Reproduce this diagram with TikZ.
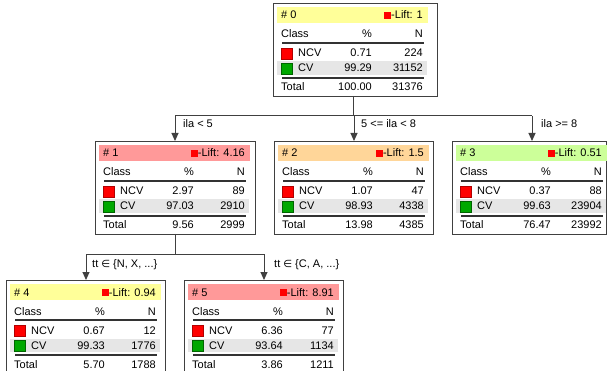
\documentclass[tikz,border=0pt]{standalone}
\usepackage{fontspec}
\setmainfont{Liberation Sans}
\newfontfamily\symfont{DejaVu Sans}[Scale=0.92]
\usetikzlibrary{arrows.meta,calc}

\definecolor{hdyellow}{HTML}{FFFF99}
\definecolor{hdpink}{HTML}{FF9999}
\definecolor{hdpeach}{HTML}{FFD699}
\definecolor{hdgreen}{HTML}{CCFF99}
\definecolor{rowgray}{HTML}{E6E6E6}
\definecolor{ncvred}{HTML}{FF0000}
\definecolor{cvgreen}{HTML}{00A800}

\newcommand\liftmark{{\color{ncvred}\rule{7pt}{7pt}}}

\tikzset{
  nodeframe/.style={draw=black!75, line width=1pt, inner sep=0pt, anchor=north west, minimum height=93pt},
  cell/.style={inner sep=0pt, font=\fontsize{11}{13}\selectfont},
  sepline/.style={draw=black!80, line width=1.3pt},
  wire/.style={draw=black!75, line width=1pt},
  arr/.style={wire, -{Triangle[width=7pt,length=8pt]}},
  lbl/.style={cell, anchor=base west},
}

% frame, header band and column titles of one tree node
% #1 name, #2 left, #3 top, #4 width, #5 header colour, #6 index, #7 lift
\newcommand\treebox[7]{%
  \begin{scope}[shift={(#2,#3)}]
    \node[nodeframe, minimum width=#4pt] (#1) at (0,0) {};
    \fill[#5] (4,4) rectangle (155,20);
    \node[cell, anchor=base west] (#1-id) at (8,16) {\# #6};
    \node[cell, anchor=base east] (#1-lift) at (150,16) {\liftmark-Lift: #7};
    \node[cell, anchor=base west] (#1-class) at (8,35) {Class};
    \node[cell, anchor=base east] (#1-pc) at (99,35) {\%};
    \node[cell, anchor=base east] (#1-n) at (150,35) {N};
    \draw[sepline] (9,40) -- (151,40);
    \coordinate (#1-top) at (80,0);
    \coordinate (#1-bot) at (80,93);
  \end{scope}}

% class rows of one tree node
% #1 name, #2 NCV %, #3 NCV N, #4 CV %, #5 CV N, #6 total %, #7 total N
\newcommand\treerows[7]{%
  \begin{scope}[shift={(#1.north west)}]
    \filldraw[fill=ncvred, draw=ncvred!70!black] (8.5,45.5) rectangle (19.5,56.5);
    \node[cell, anchor=base west] (#1-ncv) at (25,54) {NCV};
    \node[cell, anchor=base east] (#1-ncvp) at (99,54) {#2};
    \node[cell, anchor=base east] (#1-ncvn) at (150,54) {#3};
    \fill[rowgray] (4,58.5) rectangle (154,72);
    \filldraw[fill=cvgreen, draw=cvgreen!60!black] (8.5,60.5) rectangle (19.5,71.5);
    \node[cell, anchor=base west] (#1-cv) at (25,69) {CV};
    \node[cell, anchor=base east] (#1-cvp) at (99,69) {#4};
    \node[cell, anchor=base east] (#1-cvn) at (150,69) {#5};
    \draw[sepline] (9,75) -- (151,75);
    \node[cell, anchor=base west] (#1-tot) at (8,88) {Total};
    \node[cell, anchor=base east] (#1-totp) at (99,88) {#6};
    \node[cell, anchor=base east] (#1-totn) at (150,88) {#7};
  \end{scope}}

\begin{document}
\begin{tikzpicture}[x=1pt, y=-1pt]
  \clip (0,0) rectangle (607,371);
  \fill[white] (0,0) rectangle (607,371);

  \treebox{n0}{273}{3}{164}{hdyellow}{0}{1}
  \treerows{n0}{0.71}{224}{99.29}{31152}{100.00}{31376}

  \treebox{n1}{95}{141}{160}{hdpink}{1}{4.16}
  \treerows{n1}{2.97}{89}{97.03}{2910}{9.56}{2999}

  \treebox{n2}{274}{141}{159}{hdpeach}{2}{1.5}
  \treerows{n2}{1.07}{47}{98.93}{4338}{13.98}{4385}

  \treebox{n3}{452}{141}{154}{hdgreen}{3}{0.51}
  \treerows{n3}{0.37}{88}{99.63}{23904}{76.47}{23992}

  \treebox{n4}{6}{280}{159}{hdyellow}{4}{0.94}
  \treerows{n4}{0.67}{12}{99.33}{1776}{5.70}{1788}

  \treebox{n5}{184}{280}{159}{hdpink}{5}{8.91}
  \treerows{n5}{6.36}{77}{93.64}{1134}{3.86}{1211}

  % first split on ila
  \coordinate (bus0) at (353,116);
  \draw[wire] (n0-bot) -- (n0-bot |- bus0);
  \draw[wire] (n1-top |- bus0) -- (n3-top |- bus0);
  \draw[arr] (n1-top |- bus0) -- (n1-top);
  \draw[arr] (n2-top |- bus0) -- (n2-top);
  \draw[arr] (n3-top |- bus0) -- (n3-top);
  \node[lbl] (c1) at ($(n1-top |- bus0)+(8,12)$) {ila < 5};
  \node[lbl] (c2) at ($(n2-top |- bus0)+(7,12)$) {5 <= ila < 8};
  \node[lbl] (c3) at ($(n3-top |- bus0)+(9,12)$) {ila >= 8};

  % second split on tt
  \coordinate (bus1) at (175,254);
  \draw[wire] (n1-bot) -- (n1-bot |- bus1);
  \draw[wire] (n4-top |- bus1) -- (n5-top |- bus1);
  \draw[arr] (n4-top |- bus1) -- (n4-top);
  \draw[arr] (n5-top |- bus1) -- (n5-top);
  \node[lbl] (c4) at ($(n4-top |- bus1)+(6,13)$) {tt {\symfont ∈} \{N, X, ...\}};
  \node[lbl] (c5) at ($(n5-top |- bus1)+(10,13)$) {tt {\symfont ∈} \{C, A, ...\}};
\end{tikzpicture}
\end{document}
